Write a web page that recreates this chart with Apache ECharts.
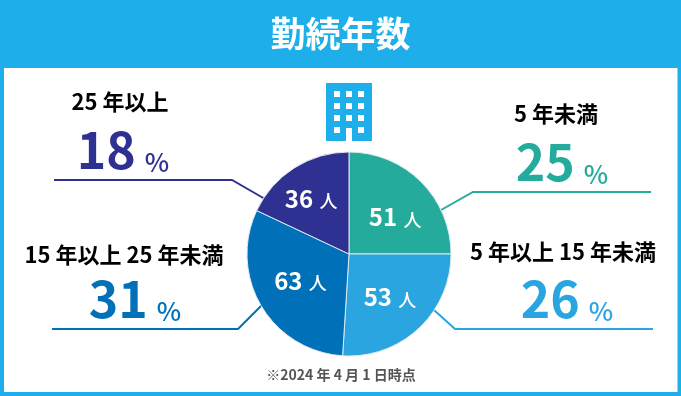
<!DOCTYPE html>
<html lang="ja">
<head>
<meta charset="utf-8">
<title>勤続年数</title>
<style>
  html, body { margin: 0; padding: 0; background: #fff; }
  #chart { width: 681px; height: 396px; }
</style>
<script src="https://cdn.jsdelivr.net/npm/echarts@6/dist/echarts.min.js"></script>
</head>
<body>
<div id="chart"></div>
<script>
// データ
const categories = ["5 年未満", "5 年以上 15 年未満", "15 年以上 25 年未満", "25 年以上"];
const percents = [25, 26, 31, 18];
const people = [51, 53, 63, 36];
const chartTitle = "勤続年数";
const footnote = "※2024 年 4 月 1 日時点";

const colors = ["#25ab9b", "#2aa5e0", "#0071b9", "#2e3191"];
const FRAME = "#1eaee9";
const FONT = '"Noto Sans CJK JP", "Noto Sans", sans-serif';

// 各カテゴリの注記の配置（ラベル中心、数値中心、引き出し線）
const notes = [
  { labelX: 556, labelY: 114, numX: 562, numBottom: 187, line: [[651, 192], [473, 192], [441, 210]] },
  { labelX: 563, labelY: 252, numX: 567, numBottom: 324, line: [[653, 329], [455, 329], [434, 310]] },
  { labelX: 124, labelY: 255, numX: 135, numBottom: 324, line: [[52, 329], [238, 329], [262, 305]] },
  { labelX: 120, labelY: 102, numX: 123, numBottom: 175, line: [[54, 180], [232, 180], [265, 199]] },
];
// 円グラフ内ラベルの微調整
const sliceLabelShift = [[8, -1], [4, 2], [-2, -3], [-9, -12]];

const graphic = [
  { type: "rect", z: -2, shape: { x: 0, y: 0, width: 681, height: 396 }, style: { fill: FRAME } },
  { type: "rect", z: -1, shape: { x: 4, y: 68, width: 673.5, height: 324 }, style: { fill: "#fff" } },
  // ビルのアイコン
  { type: "rect", z: 1, shape: { x: 326, y: 83, width: 46, height: 58 }, style: { fill: FRAME } },
];
[94, 106, 118, 130].forEach((y, row) => {
  [337, 349, 361].forEach((x, col) => {
    if (row === 3 && col === 1) return;
    graphic.push({ type: "rect", z: 2, shape: { x: x - 3, y: y - 3, width: 6, height: 6 }, style: { fill: "#fff" } });
  });
});
graphic.push({ type: "rect", z: 2, shape: { x: 346, y: 128, width: 6, height: 13 }, style: { fill: "#fff" } });

categories.forEach((name, i) => {
  const n = notes[i];
  graphic.push({
    type: "polyline", z: 1,
    shape: { points: n.line },
    style: { stroke: colors[i], lineWidth: 2, fill: null },
  });
  graphic.push({
    type: "text", z: 3, x: n.labelX, y: n.labelY,
    style: { text: name, fill: "#000", font: `700 22px ${FONT}`, align: "center", verticalAlign: "middle" },
  });
  graphic.push({
    type: "text", z: 3, x: n.numX, y: n.numBottom,
    style: {
      text: `{n|${percents[i]}} {p|%}`,
      fill: colors[i],
      align: "center",
      verticalAlign: "bottom",
      font: `500 26px ${FONT}`,
      rich: {
        n: { font: `700 50px ${FONT}`, fill: colors[i], lineHeight: 60, verticalAlign: "bottom" },
        p: { font: `500 26px ${FONT}`, fill: colors[i], lineHeight: 40, verticalAlign: "bottom", padding: [0, 0, 0, 3] },
      },
    },
  });
});
graphic.push({
  type: "text", z: 3, x: 341, y: 375,
  style: { text: footnote, fill: "#555", font: `700 14px ${FONT}`, align: "center", verticalAlign: "middle" },
});

const chart = echarts.init(document.getElementById("chart"), null, { renderer: "canvas" });
chart.setOption({
  animation: false,
  title: {
    text: chartTitle,
    left: "center",
    top: 12,
    padding: 0,
    textStyle: { color: "#fff", fontFamily: FONT, fontWeight: 700, fontSize: 35, lineHeight: 44 },
  },
  graphic: graphic,
  series: [
    {
      type: "pie",
      center: [349, 254],
      radius: [0, 102],
      startAngle: 90,
      clockwise: true,
      silent: true,
      itemStyle: { borderColor: "#dfe8ee", borderWidth: 1 },
      label: {
        show: true,
        position: "inside",
        formatter: (p) => `{n|${people[p.dataIndex]}} {u|人}`,
        rich: {
          n: { color: "#fff", fontFamily: FONT, fontWeight: 700, fontSize: 24, verticalAlign: "bottom", lineHeight: 28 },
          u: { color: "#fff", fontFamily: FONT, fontWeight: 500, fontSize: 18, verticalAlign: "bottom", lineHeight: 26, padding: [0, 0, 0, 3] },
        },
      },
      labelLine: { show: false },
      labelLayout: (p) => ({ dx: sliceLabelShift[p.dataIndex][0], dy: sliceLabelShift[p.dataIndex][1] }),
      data: categories.map((name, i) => ({ name, value: percents[i], itemStyle: { color: colors[i] } })),
    },
  ],
});
</script>
</body>
</html>
